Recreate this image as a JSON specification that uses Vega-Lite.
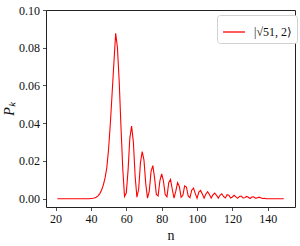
{
  "$schema": "https://vega.github.io/schema/vega-lite/v6.json",
  "width": 249,
  "height": 197,
  "autosize": {"type": "none"},
  "padding": {"left": 46, "top": 10, "right": 5, "bottom": 39},
  "background": "white",
  "config": {
    "font": "Liberation Serif",
    "view": {"stroke": "#222", "strokeWidth": 1},
    "axis": {
      "grid": false,
      "domain": false,
      "tickColor": "#222",
      "tickSize": 3.5,
      "tickWidth": 0.8,
      "labelFont": "Liberation Serif",
      "labelFontSize": 12,
      "labelColor": "#111",
      "labelPadding": 3,
      "titleFont": "Liberation Serif",
      "titleFontSize": 14,
      "titleFontWeight": "normal",
      "titleColor": "#111"
    },
    "legend": {
      "labelFont": "Liberation Serif",
      "labelFontSize": 12,
      "labelColor": "#111"
    }
  },
  "data": {
    "values": [
      {"n": 21, "p": 0}, {"n": 22, "p": 0}, {"n": 23, "p": 0}, {"n": 24, "p": 0},
      {"n": 25, "p": 0}, {"n": 26, "p": 0}, {"n": 27, "p": 0}, {"n": 28, "p": 0},
      {"n": 29, "p": 0}, {"n": 30, "p": 0}, {"n": 31, "p": 0}, {"n": 32, "p": 0},
      {"n": 33, "p": 0}, {"n": 34, "p": 0}, {"n": 35, "p": 0}, {"n": 36, "p": 0},
      {"n": 37, "p": 0}, {"n": 38, "p": 0}, {"n": 39, "p": 0}, {"n": 40, "p": 0.0001},
      {"n": 41, "p": 0.0002}, {"n": 42, "p": 0.0004}, {"n": 43, "p": 0.0008},
      {"n": 44, "p": 0.0015}, {"n": 45, "p": 0.0027}, {"n": 46, "p": 0.0045},
      {"n": 47, "p": 0.0072}, {"n": 48, "p": 0.011}, {"n": 49, "p": 0.0165},
      {"n": 50, "p": 0.0265}, {"n": 51, "p": 0.04}, {"n": 52, "p": 0.056},
      {"n": 53, "p": 0.072}, {"n": 54, "p": 0.0877}, {"n": 55, "p": 0.08},
      {"n": 56, "p": 0.062}, {"n": 57, "p": 0.038}, {"n": 58, "p": 0.016},
      {"n": 59, "p": 0.0012}, {"n": 60, "p": 0.003}, {"n": 61, "p": 0.015},
      {"n": 62, "p": 0.032}, {"n": 63, "p": 0.0385}, {"n": 64, "p": 0.03},
      {"n": 65, "p": 0.012}, {"n": 66, "p": 0.0008}, {"n": 67, "p": 0.005},
      {"n": 68, "p": 0.019}, {"n": 69, "p": 0.025}, {"n": 70, "p": 0.0205},
      {"n": 71, "p": 0.008}, {"n": 72, "p": 0.0003}, {"n": 73, "p": 0.004},
      {"n": 74, "p": 0.0145}, {"n": 75, "p": 0.0175}, {"n": 76, "p": 0.011},
      {"n": 77, "p": 0.0022}, {"n": 78, "p": 0.0015}, {"n": 79, "p": 0.0095},
      {"n": 80, "p": 0.0132}, {"n": 81, "p": 0.0095}, {"n": 82, "p": 0.0022},
      {"n": 83, "p": 0.001}, {"n": 84, "p": 0.0085}, {"n": 85, "p": 0.0102},
      {"n": 86, "p": 0.005}, {"n": 87, "p": 0.0003}, {"n": 88, "p": 0.004},
      {"n": 89, "p": 0.0085}, {"n": 90, "p": 0.0065}, {"n": 91, "p": 0.0008},
      {"n": 92, "p": 0.0018}, {"n": 93, "p": 0.0068}, {"n": 94, "p": 0.0062},
      {"n": 95, "p": 0.0015}, {"n": 96, "p": 0.0006}, {"n": 97, "p": 0.0045},
      {"n": 98, "p": 0.0056}, {"n": 99, "p": 0.0028}, {"n": 100, "p": 0.0002},
      {"n": 101, "p": 0.0035}, {"n": 102, "p": 0.0044}, {"n": 103, "p": 0.0025},
      {"n": 104, "p": 0.0003}, {"n": 105, "p": 0.0025}, {"n": 106, "p": 0.0037},
      {"n": 107, "p": 0.0022}, {"n": 108, "p": 0.0003}, {"n": 109, "p": 0.002},
      {"n": 110, "p": 0.003}, {"n": 111, "p": 0.0018}, {"n": 112, "p": 0.0003},
      {"n": 113, "p": 0.0018}, {"n": 114, "p": 0.0026}, {"n": 115, "p": 0.0012},
      {"n": 116, "p": 0.0004}, {"n": 117, "p": 0.0021}, {"n": 118, "p": 0.0018},
      {"n": 119, "p": 0.0004}, {"n": 120, "p": 0.0009}, {"n": 121, "p": 0.0018},
      {"n": 122, "p": 0.001}, {"n": 123, "p": 0.0002}, {"n": 124, "p": 0.0012},
      {"n": 125, "p": 0.0014}, {"n": 126, "p": 0.0004}, {"n": 127, "p": 0.0005},
      {"n": 128, "p": 0.0012}, {"n": 129, "p": 0.0008}, {"n": 130, "p": 0.0001},
      {"n": 131, "p": 0.0009}, {"n": 132, "p": 0.001}, {"n": 133, "p": 0.0003},
      {"n": 134, "p": 0.0004}, {"n": 135, "p": 0.0008}, {"n": 136, "p": 0.0005},
      {"n": 137, "p": 0.0001}, {"n": 138, "p": 0.0002}, {"n": 139, "p": 0},
      {"n": 140, "p": 0}, {"n": 141, "p": 0}, {"n": 142, "p": 0}, {"n": 143, "p": 0},
      {"n": 144, "p": 0}, {"n": 145, "p": 0}, {"n": 146, "p": 0}, {"n": 147, "p": 0},
      {"n": 148, "p": 0}, {"n": 149, "p": 0}
    ]
  },
  "mark": {"type": "line", "strokeWidth": 1.1, "interpolate": "linear"},
  "encoding": {
    "x": {
      "field": "n",
      "type": "quantitative",
      "scale": {"domain": [14.6, 155.4], "nice": false, "zero": false},
      "axis": {"values": [20, 40, 60, 80, 100, 120, 140], "title": "n", "titlePadding": 4}
    },
    "y": {
      "field": "p",
      "type": "quantitative",
      "scale": {"domain": [-0.0044, 0.1], "nice": false, "zero": false},
      "axis": {
        "values": [0, 0.02, 0.04, 0.06, 0.08, 0.1],
        "format": ".2f",
        "title": "Pₖ",
        "titleFontStyle": "italic",
        "titlePadding": 2
      }
    },
    "color": {
      "datum": "|√51, 2⟩",
      "type": "nominal",
      "scale": {"range": ["#ff0000"]},
      "legend": {
        "title": null,
        "orient": "none",
        "legendX": 171,
        "legendY": 5,
        "symbolType": "stroke",
        "symbolSize": 480,
        "symbolStrokeWidth": 1.3,
        "strokeColor": "#d0d0d0",
        "fillColor": "white",
        "cornerRadius": 3,
        "padding": 5,
        "labelOffset": 8
      }
    }
  }
}
